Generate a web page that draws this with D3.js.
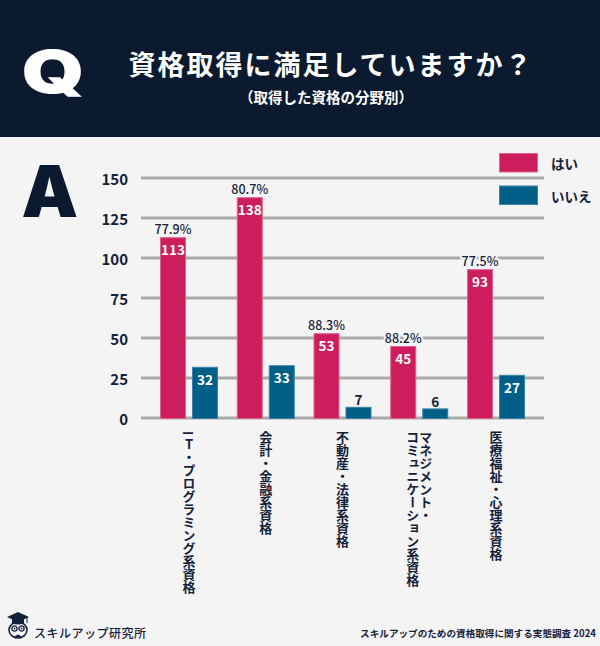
<!DOCTYPE html>
<html lang="ja">
<head>
<meta charset="utf-8">
<script src="https://cdn.jsdelivr.net/npm/d3@7/dist/d3.min.js"></script>
<style>
  html, body { margin: 0; padding: 0; background: #f4f4f4; }
  svg { display: block; }
  text { font-family: "Noto Sans CJK JP", "Noto Sans", sans-serif; }
</style>
</head>
<body>
<div id="chart"></div>
<script>
// ---- data ----
const categories = ["IT・プログラミング系資格", "会計・金融系資格", "不動産・法律系資格", "マネジメント・コミュニケーション系資格", "医療福祉・心理系資格"];
const categoryLines = [["IT・プログラミング系資格"], ["会計・金融系資格"], ["不動産・法律系資格"], ["マネジメント・", "コミュニケーション系資格"], ["医療福祉・心理系資格"]];
const seriesNames = ["はい", "いいえ"];
const yesValues = [113, 138, 53, 45, 93];
const noValues = [32, 33, 7, 6, 27];
const pctLabels = ["77.9%", "80.7%", "88.3%", "88.2%", "77.5%"];
const yTicks = [0, 25, 50, 75, 100, 125, 150];
const titleText = "資格取得に満足していますか？";
const subtitleText = "（取得した資格の分野別）";
const sourceText = "スキルアップのための資格取得に関する実態調査 2024";
const brandText = "スキルアップ研究所";

// ---- styles ----
const W = 600, H = 646;
const navy = "#0b1a2e";
const textNavy = "#13213a";
const pink = "#cc1d5c";
const blue = "#025f87";
const bg = "#f4f4f4";
const colors = [pink, blue];
const strokes = ["#e0628f", "#3b82a6"];

const svg = d3.select("#chart").append("svg").attr("width", W).attr("height", H);
svg.append("rect").attr("width", W).attr("height", H).attr("fill", bg);

// header
svg.append("rect").attr("x", 0).attr("y", 0).attr("width", W).attr("height", 137).attr("fill", navy);

const q = svg.append("text").text("Q").style("font-family", "Inter, sans-serif")
  .attr("font-weight", 900).attr("font-size", 60).attr("fill", "#fff");
(function () {
  const b = q.node().getBBox();
  const fs = 60, asc = 0.73 * fs;
  const sx = 58 / (b.width * 0.92), sy = 1.1 * 45 / (asc + 0.1 * fs);
  q.attr("transform", `translate(${19 - b.x * sx + 0.04 * b.width * sx},${49 + asc * sy}) scale(${sx},${sy})`);
})();

svg.append("text").text(titleText)
  .attr("x", 331).attr("y", 63.5).attr("text-anchor", "middle").attr("dominant-baseline", "central")
  .attr("font-size", 27).attr("font-weight", 700).attr("letter-spacing", 2).attr("fill", "#fff");
svg.append("text").text(subtitleText)
  .attr("x", 326).attr("y", 96.5).attr("text-anchor", "middle").attr("dominant-baseline", "central")
  .attr("font-size", 14.5).attr("font-weight", 700).attr("fill", "#fff");

// A
const aText = svg.append("text").text("A").style("font-family", "Inter, sans-serif")
  .attr("font-weight", 900).attr("font-size", 70).attr("fill", navy);
(function () {
  const b = aText.node().getBBox();
  const fs = 70, asc = 0.727 * fs;
  const sx = 55 / (b.width * 0.97), sy = 52 / asc;
  aText.attr("transform", `translate(${22 - b.x * sx - 0.01 * b.width * sx},${217}) scale(${sx},${sy})`);
})();

// ---- scales ----
const plotL = 141, plotR = 544, y0 = 418, y1 = 178;
const x = d3.scaleBand().domain(categories).range([plotL, plotR]).paddingInner(0.244).paddingOuter(0.2475);
const xs = d3.scaleBand().domain(seriesNames).range([0, x.bandwidth()]).paddingInner(0.1875).paddingOuter(0);
const y = d3.scaleLinear().domain([0, 150]).range([y0, y1]);

// grid lines
svg.append("g").selectAll("line").data(yTicks).join("line")
  .attr("x1", plotL).attr("x2", plotR)
  .attr("y1", d => y(d)).attr("y2", d => y(d))
  .attr("stroke", "#a9a9a9").attr("stroke-width", 2.8);

// y axis labels
const yAxis = svg.append("g").attr("transform", `translate(128,0)`)
  .call(d3.axisLeft(y).tickValues(yTicks).tickSize(0).tickPadding(0));
yAxis.select(".domain").remove();
yAxis.selectAll("text").attr("font-size", 15).attr("font-weight", 700).attr("fill", textNavy)
  .attr("dy", null).attr("dominant-baseline", "central")
  .style("font-family", "'Noto Sans CJK JP', sans-serif");

// bars
const rows = categories.map((c, i) => ({ c, vals: [yesValues[i], noValues[i]], pct: pctLabels[i] }));
const groups = svg.append("g").selectAll("g").data(rows).join("g")
  .attr("transform", d => `translate(${x(d.c)},0)`);

groups.selectAll("rect").data(d => d.vals.map((v, k) => ({ v, k }))).join("rect")
  .attr("x", d => xs(seriesNames[d.k]) + 0.5)
  .attr("width", xs.bandwidth() - 1)
  .attr("y", d => y(d.v) + 0.5)
  .attr("height", d => y0 - y(d.v))
  .attr("fill", d => colors[d.k])
  .attr("stroke", d => strokes[d.k]).attr("stroke-width", 1);

// value labels
groups.selectAll("text.val").data(d => d.vals.map((v, k) => ({ v, k }))).join("text")
  .attr("class", "val")
  .attr("x", d => xs(seriesNames[d.k]) + xs.bandwidth() / 2)
  .attr("y", d => d.v < 15 ? y(d.v) - 1.5 : y(d.v) + 18)
  .attr("text-anchor", "middle")
  .attr("font-size", 13.5).attr("font-weight", 700)
  .attr("fill", d => d.v < 15 ? textNavy : "#fff")
  .text(d => d.v);

// percent labels above "はい" bars
groups.append("text")
  .attr("x", xs(seriesNames[0]) + xs.bandwidth() / 2)
  .attr("y", d => y(d.vals[0]) - 3)
  .attr("text-anchor", "middle")
  .attr("font-size", 12.5).attr("font-weight", 500)
  .attr("fill", textNavy)
  .attr("stroke", bg).attr("stroke-width", 4).attr("paint-order", "stroke")
  .text(d => d.pct);

// category labels (vertical)
groups.each(function (d, i) {
  const g = d3.select(this);
  const lines = categoryLines[i];
  const cx = x.bandwidth() / 2;
  lines.forEach((ln, j) => {
    const off = (lines.length - 1) / 2 * 13 - j * 13;
    const t = g.append("text")
      .attr("x", cx + off).attr("y", 431)
      .attr("writing-mode", "vertical-rl")
      .style("writing-mode", "vertical-rl")
      .attr("font-size", 13).attr("font-weight", 700)
      .attr("fill", textNavy);
    if (ln.startsWith("IT")) {
      t.append("tspan").text("I");
      t.append("tspan").attr("dy", 3).style("text-orientation", "upright").text("T");
      t.append("tspan").text(ln.slice(2));
    } else {
      t.text(ln);
    }
  });
});

// legend
const leg = svg.append("g");
seriesNames.forEach((s, k) => {
  const ly = 153.5 + k * 32.5;
  leg.append("rect").attr("x", 499.5).attr("y", ly).attr("width", 38).attr("height", 18.5)
    .attr("fill", colors[k]).attr("stroke", strokes[k]).attr("stroke-width", 1);
  leg.append("text").attr("x", 551).attr("y", ly + 9.5).attr("dominant-baseline", "central")
    .attr("font-size", 13.5).attr("font-weight", 700).attr("fill", textNavy).text(s);
});

// footer: logo
const logo = svg.append("g").attr("transform", "translate(18,627)");
logo.append("path").attr("d", "M-11,-10 L0,-15 L11,-10 L0,-5 Z").attr("fill", textNavy);
logo.append("path").attr("d", "M-6,-8 L-6,-4 Q0,-1 6,-4 L6,-8").attr("fill", textNavy);
logo.append("line").attr("x1", 9).attr("y1", -10).attr("x2", 9).attr("y2", -4).attr("stroke", textNavy).attr("stroke-width", 1);
logo.append("ellipse").attr("cx", 0).attr("cy", 3).attr("rx", 9).attr("ry", 8).attr("fill", "none").attr("stroke", textNavy).attr("stroke-width", 1.6);
logo.append("circle").attr("cx", -3.5).attr("cy", 1.5).attr("r", 2.6).attr("fill", "none").attr("stroke", textNavy).attr("stroke-width", 1.3);
logo.append("circle").attr("cx", 3.5).attr("cy", 1.5).attr("r", 2.6).attr("fill", "none").attr("stroke", textNavy).attr("stroke-width", 1.3);
logo.append("circle").attr("cx", -3.5).attr("cy", 1.5).attr("r", 0.9).attr("fill", textNavy);
logo.append("circle").attr("cx", 3.5).attr("cy", 1.5).attr("r", 0.9).attr("fill", textNavy);
logo.append("path").attr("d", "M-3,9 L0,7.5 L3,9 L3,11.5 L0,10 L-3,11.5 Z").attr("fill", textNavy);

svg.append("text").text(brandText)
  .attr("x", 34).attr("y", 632).attr("dominant-baseline", "central")
  .attr("font-size", 12).attr("font-weight", 500).attr("letter-spacing", 0.5).attr("fill", textNavy);

svg.append("text").text(sourceText)
  .attr("x", 596).attr("y", 633).attr("text-anchor", "end").attr("dominant-baseline", "central")
  .attr("font-size", 9.6).attr("font-weight", 700).attr("fill", textNavy);
</script>
</body>
</html>
